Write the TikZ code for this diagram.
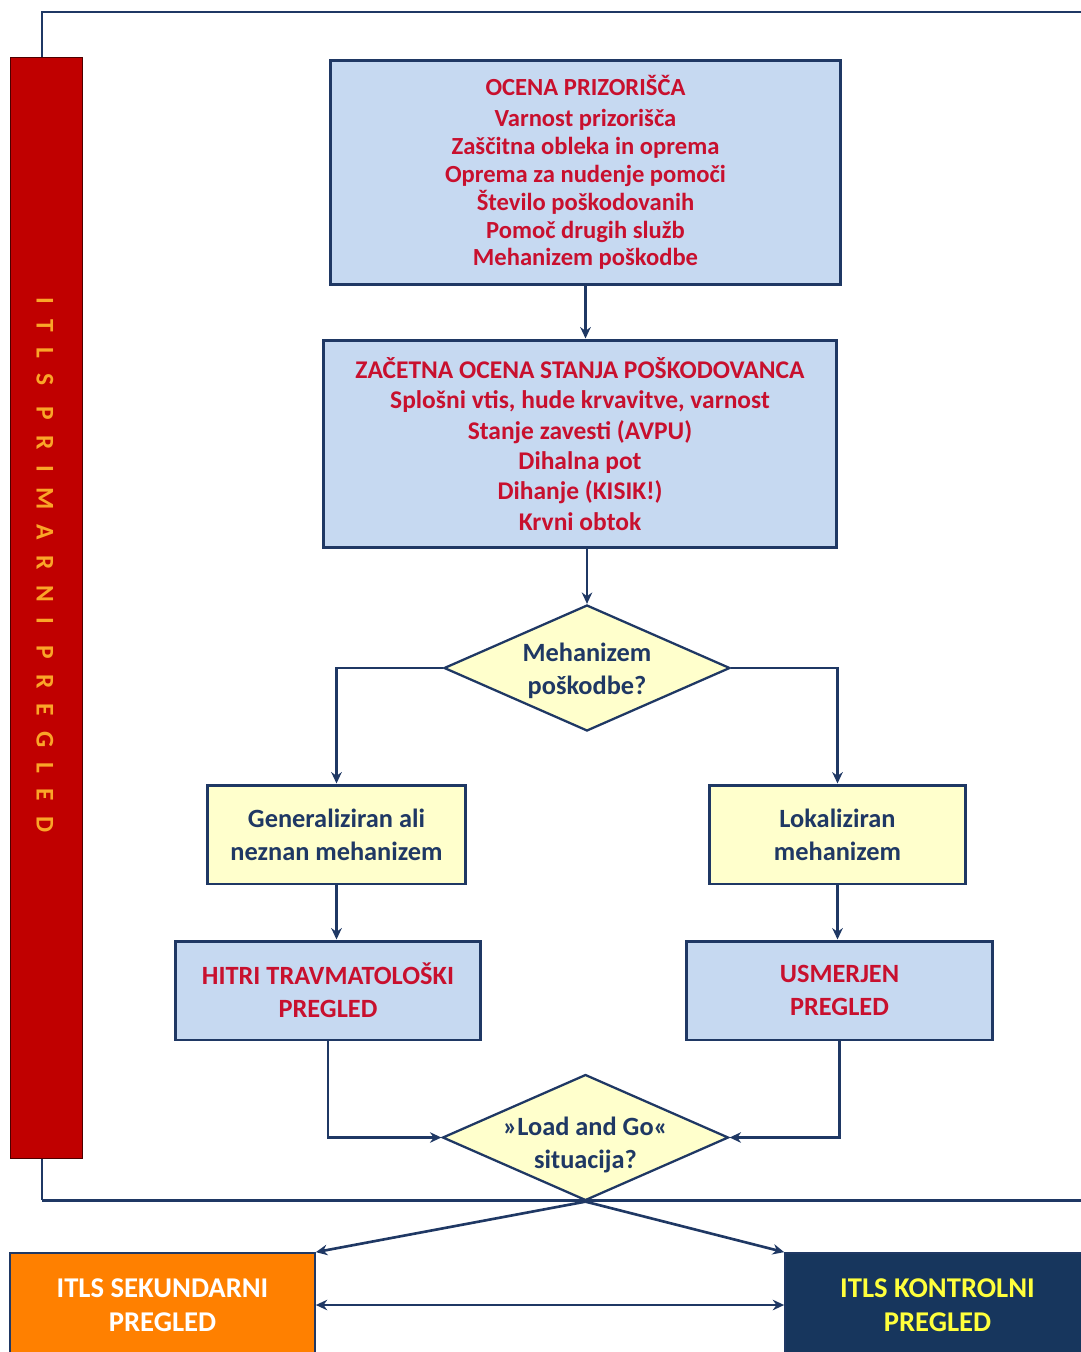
\documentclass[tikz,border=0pt]{standalone}
\usepackage{fontspec}
\setmainfont{Carlito}
\newfontfamily\spacedfont[LetterSpace=60]{Carlito}
\usetikzlibrary{shapes.geometric,arrows.meta}
\definecolor{navy}{RGB}{31,56,100}
\definecolor{boxblue}{RGB}{198,217,241}
\definecolor{boxyellow}{RGB}{255,255,204}
\definecolor{redtxt}{RGB}{200,16,46}
\definecolor{barred}{RGB}{192,0,0}
\definecolor{bartxt}{RGB}{250,165,40}
\definecolor{orangebox}{RGB}{255,128,0}
\definecolor{darknavy}{RGB}{23,54,93}
\definecolor{yellowtxt}{RGB}{255,255,60}
\begin{document}
\begin{tikzpicture}[x=0.02cm,y=-0.02cm,
  bluebox/.style={draw=navy,line width=1.7pt,fill=boxblue,text=redtxt,align=center,
    font=\bfseries\fontsize{15}{18.7}\selectfont},
  yellowbox/.style={draw=navy,line width=1.7pt,fill=boxyellow,text=navy,align=center,
    minimum height=1.98cm,font=\bfseries\fontsize{15}{18.7}\selectfont},
  decision/.style={diamond,draw=navy,line width=1.3pt,fill=boxyellow,inner sep=0pt,
    minimum width=5.72cm,minimum height=2.52cm},
  dtext/.style={text=navy,align=center,font=\bfseries\fontsize{15}{18.5}\selectfont},
  endbox/.style={draw=navy,line width=1pt,minimum width=6.1cm,minimum height=2.08cm,
    align=center,font=\bfseries\fontsize{16.3}{19.3}\selectfont},
  conn/.style={draw=navy,line width=1.5pt,-{Stealth[length=6.5pt,width=6pt]}}]
\useasboundingbox (0,0) rectangle (1081,1352);
\clip (0,0) rectangle (1081,1352);

% frame round the primary survey
\draw[navy,line width=1.7pt] (42,1200) -- (42,12) -- (1100,12);
\draw[navy,line width=1.7pt] (42,1200) -- (1100,1200);

% side bar
\node[draw=black!60!barred,fill=barred,minimum width=1.44cm,minimum height=22.02cm] (bar) at (46,607.5) {};
\node[rotate=-90,text=bartxt,font=\spacedfont\bfseries\fontsize{14.5}{16}\selectfont] (bartitle) at (45,565) {ITLS PRIMARNI PREGLED};

% boxes
\node[bluebox,minimum width=10.22cm,minimum height=4.5cm,font=\bfseries\fontsize{14}{15.9}\selectfont] (scene) at (585.5,172.5)
  {OCENA PRIZORIŠČA\\[1.7pt] Varnost prizorišča\\ Zaščitna obleka in oprema\\ Oprema za nudenje pomoči\\ Število poškodovanih\\ Pomoč drugih služb\\ Mehanizem poškodbe};
\node[bluebox,minimum width=10.28cm,minimum height=4.16cm,font=\bfseries\fontsize{14.5}{17.3}\selectfont] (first) at (580,444)
  {ZAČETNA OCENA STANJA POŠKODOVANCA\\ Splošni vtis, hude krvavitve, varnost\\ Stanje zavesti (AVPU)\\ Dihalna pot\\ Dihanje (KISIK!)\\ Krvni obtok};
\node[decision] (mech) at (587,668) {};
\node[dtext] (mechtext) at (587,671) {Mehanizem\\ poškodbe?};
\node[yellowbox,minimum width=5.18cm] (gen) at (336.5,834.5) {Generaliziran ali\\ neznan mehanizem};
\node[yellowbox,minimum width=5.14cm] (loc) at (837.5,834.5) {Lokaliziran\\ mehanizem};
\node[bluebox,minimum width=6.12cm,minimum height=1.98cm] (rapid) at (328,990.5) {HITRI TRAVMATOLOŠKI\\ PREGLED};
\node[bluebox,minimum width=6.14cm,minimum height=1.98cm] (focus) at (839.5,990.5) {USMERJEN\\ PREGLED};
\node[decision] (lg) at (585.5,1137.5) {};
\node[dtext] (lgtext) at (585.5,1145) {»Load and Go«\\ situacija?};
\node[endbox,fill=orangebox,text=white] (sec) at (162.5,1305) {ITLS SEKUNDARNI\\ PREGLED};
\node[endbox,fill=darknavy,text=yellowtxt] (ctrl) at (937.5,1305) {ITLS KONTROLNI\\ PREGLED};

% connectors
\draw[conn] (scene.south) -- (scene.south |- first.north);
\draw[conn] (mech.north |- first.south) -- (mech.north);
\draw[conn] (mech.west) -| (gen.north);
\draw[conn] (mech.east) -| (loc.north);
\draw[conn] (gen.south) -- (gen.south |- rapid.north);
\draw[conn] (loc.south) -- (loc.south |- focus.north);
\draw[conn] (rapid.south) |- (lg.west);
\draw[conn] (focus.south) |- (lg.east);
\draw[conn] (lg.south) -- (sec.north east);
\draw[conn] (lg.south) -- (ctrl.north west);
\draw[conn,{Stealth[length=6.5pt,width=6pt]}-{Stealth[length=6.5pt,width=6pt]}] (sec.east) -- (ctrl.west);
\end{tikzpicture}
\end{document}
